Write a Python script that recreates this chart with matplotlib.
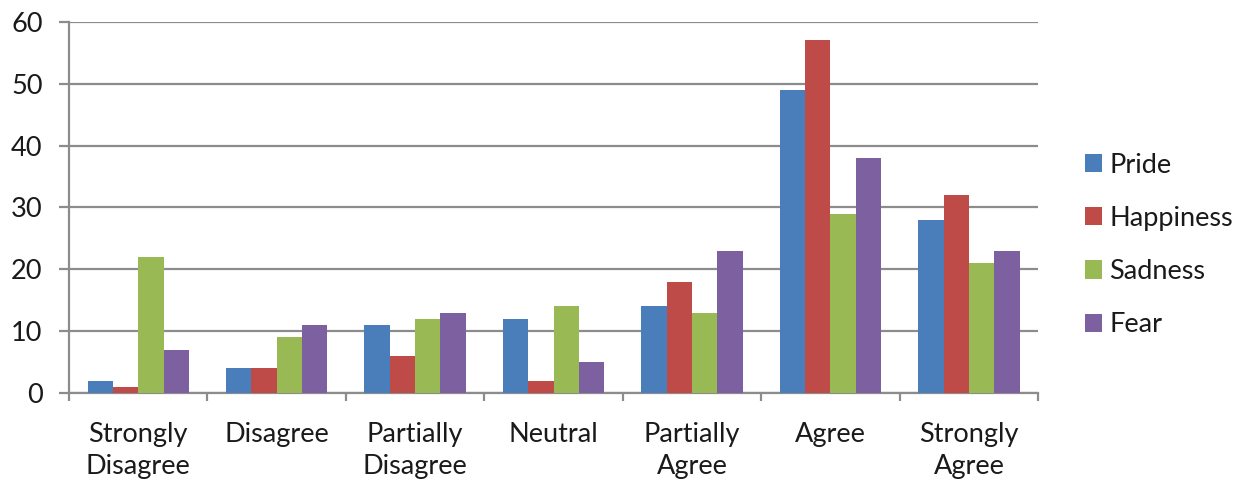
import numpy as np
import matplotlib.pyplot as plt
import matplotlib as mpl

mpl.rcParams.update({
    "font.family": ["Lato", "DejaVu Sans"],
    "font.size": 19.5,
    "text.color": "#1a1a1a",
    "xtick.labelcolor": "#1a1a1a",
    "ytick.labelcolor": "#1a1a1a",
})

CATEGORIES = ["Strongly\nDisagree", "Disagree", "Partially\nDisagree", "Neutral",
              "Partially\nAgree", "Agree", "Strongly\nAgree"]
SERIES = ["Pride", "Happiness", "Sadness", "Fear"]
PRIDE = [2, 4, 11, 12, 14, 49, 28]
HAPPINESS = [1, 4, 6, 2, 18, 57, 32]
SADNESS = [22, 9, 12, 14, 13, 29, 21]
FEAR = [7, 11, 13, 5, 23, 38, 23]
COLORS = ["#4a7ebb", "#be4b48", "#98b954", "#7d60a0"]

GRID = "#8c8c8c"


def main():
    fig = plt.figure(figsize=(12.44, 4.87), dpi=100)
    ax = fig.add_axes([0.0555, 0.193, 0.779, 0.762])

    values = [PRIDE, HAPPINESS, SADNESS, FEAR]
    n = len(CATEGORIES)
    centers = np.arange(n) + 0.5
    bw = 0.183
    for k, (name, vals, col) in enumerate(zip(SERIES, values, COLORS)):
        ax.bar(centers + (k - 1.5) * bw, vals, width=bw, color=col,
               label=name, zorder=3, linewidth=0)

    ax.set_xlim(0, n)
    ax.set_ylim(0, 60)
    ax.set_yticks(np.arange(0, 61, 10))
    ax.yaxis.grid(True, color=GRID, linewidth=1.6, zorder=0)

    # category labels sit between the boundary tick marks
    ax.set_xticks(np.arange(n + 1))
    ax.set_xticklabels([])
    ax.set_xticks(centers, minor=True)
    ax.set_xticklabels(CATEGORIES, minor=True, linespacing=1.35)
    ax.tick_params(axis="x", which="minor", length=0, pad=21)
    ax.tick_params(axis="x", which="major", length=6, width=1.6,
                   color=GRID, direction="out")
    ax.tick_params(axis="y", length=7, width=1.6, color=GRID, pad=12)

    for s in ("top", "right"):
        ax.spines[s].set_visible(False)
    for s in ("left", "bottom"):
        ax.spines[s].set_color(GRID)
        ax.spines[s].set_linewidth(1.6)

    fig.legend(loc="center left", bbox_to_anchor=(0.872, 0.497), frameon=False,
               borderaxespad=0, borderpad=0,
               handlelength=0.65, handleheight=0.65, handletextpad=0.25,
               labelspacing=1.04, fontsize=19.5)

    fig.savefig("out.png", dpi=100)
    plt.close(fig)


if __name__ == "__main__":
    main()
